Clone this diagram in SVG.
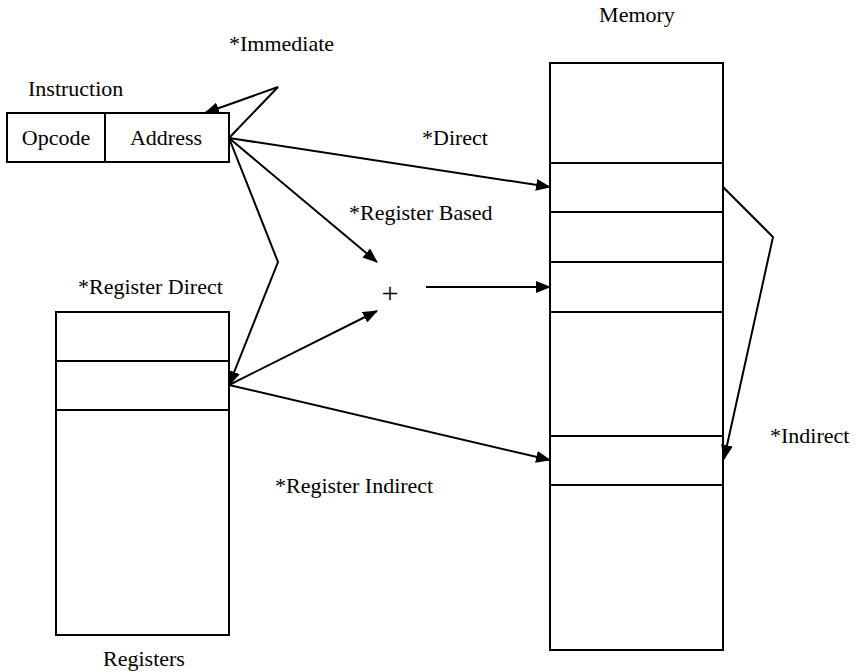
<svg xmlns="http://www.w3.org/2000/svg" width="856" height="672" viewBox="0 0 856 672">
<style>
.b{fill:#fff;stroke:#000;stroke-width:2}
.l{stroke:#000;stroke-width:2;fill:none}
.c{stroke:#000;stroke-width:2;fill:none}
</style>
<defs>
<marker id="a" markerWidth="15" markerHeight="12" refX="14" refY="6" orient="auto" markerUnits="userSpaceOnUse" viewBox="0 0 15 12">
<path d="M0,0 L15,6 L0,12 z" fill="#000"/>
</marker>
</defs>
<rect width="856" height="672" fill="#fff"/>
<g font-family="Liberation Serif, Times New Roman, serif" font-size="22px" fill="#000">
<g id="instruction">
<rect class="b" x="7" y="113" width="222" height="49"/>
<line class="l" x1="105" y1="113" x2="105" y2="162"/>
<text x="56" y="145" text-anchor="middle">Opcode</text>
<text x="166" y="145" text-anchor="middle">Address</text>
<text x="28" y="96">Instruction</text>
</g>
<g id="memory">
<rect class="b" x="550" y="63" width="173" height="587"/>
<line class="l" x1="550" y1="163" x2="723" y2="163"/>
<line class="l" x1="550" y1="212" x2="723" y2="212"/>
<line class="l" x1="550" y1="262" x2="723" y2="262"/>
<line class="l" x1="550" y1="312" x2="723" y2="312"/>
<line class="l" x1="550" y1="436" x2="723" y2="436"/>
<line class="l" x1="550" y1="485" x2="723" y2="485"/>
<text x="637" y="22" text-anchor="middle">Memory</text>
</g>
<g id="registers">
<rect class="b" x="56" y="312" width="173" height="323"/>
<line class="l" x1="56" y1="361" x2="229" y2="361"/>
<line class="l" x1="56" y1="410" x2="229" y2="410"/>
<text x="144" y="666" text-anchor="middle">Registers</text>
</g>
<g id="adder">
<text x="390" y="303" text-anchor="middle" font-size="30px">+</text>
</g>
<g id="connectors">
<polyline class="c" points="229,138 278,87 205,113" marker-end="url(#a)"/>
<line class="c" x1="229" y1="138" x2="550" y2="187" marker-end="url(#a)"/>
<line class="c" x1="229" y1="138" x2="377" y2="262" marker-end="url(#a)"/>
<polyline class="c" points="229,138 278,262 229,385" marker-end="url(#a)"/>
<line class="c" x1="229" y1="385" x2="377" y2="311" marker-end="url(#a)"/>
<line class="c" x1="426" y1="287" x2="550" y2="287" marker-end="url(#a)"/>
<line class="c" x1="229" y1="385" x2="550" y2="460" marker-end="url(#a)"/>
<polyline class="c" points="723,187 773,237 724,459" marker-end="url(#a)"/>
</g>
<g id="labels">
<text x="229" y="51">*Immediate</text>
<text x="422" y="145">*Direct</text>
<text x="349" y="220">*Register Based</text>
<text x="78" y="294">*Register Direct</text>
<text x="275" y="493">*Register Indirect</text>
<text x="770" y="443">*Indirect</text>
</g>
</g>
</svg>
